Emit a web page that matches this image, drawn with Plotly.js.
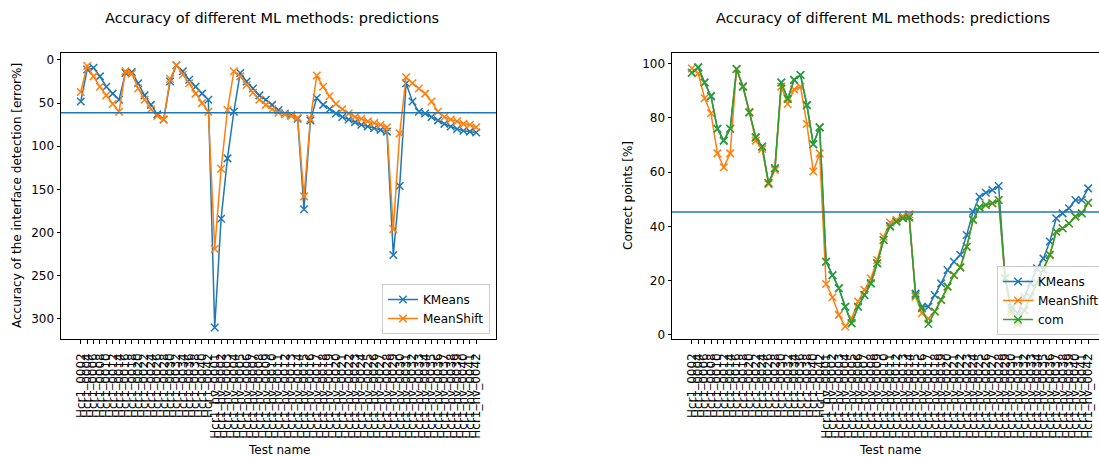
<!DOCTYPE html>
<html><head><meta charset="utf-8">
<script src="https://cdn.plot.ly/plotly-3.0.1.min.js"></script>
<style>
html,body{margin:0;padding:0;overflow:hidden;background:#fff}
#wrap{width:1099px;height:457px;overflow:hidden}
#plot{width:1120px;height:457px}
</style>
</head><body><div id="wrap"><div id="plot"></div></div>
<script>
const testNames = [
  'Hcr1_0002','Hcr1_0004','Hcr1_0006','Hcr1_0008','Hcr1_0010','Hcr1_0012','Hcr1_0014',
  'Hcr1_0016','Hcr1_0018','Hcr1_0020','Hcr1_0022','Hcr1_0024','Hcr1_0026','Hcr1_0028',
  'Hcr1_0030','Hcr1_0032','Hcr1_0034','Hcr1_0036','Hcr1_0038','Hcr1_0040','Hcr1_0042',
  'Hcr1_hv_0001','Hcr1_hv_0002','Hcr1_hv_0003','Hcr1_hv_0004','Hcr1_hv_0005','Hcr1_hv_0006','Hcr1_hv_0007',
  'Hcr1_hv_0008','Hcr1_hv_0009','Hcr1_hv_0010','Hcr1_hv_0011','Hcr1_hv_0012','Hcr1_hv_0013','Hcr1_hv_0014',
  'Hcr1_hv_0015','Hcr1_hv_0016','Hcr1_hv_0017','Hcr1_hv_0018','Hcr1_hv_0019','Hcr1_hv_0020','Hcr1_hv_0021',
  'Hcr1_hv_0022','Hcr1_hv_0023','Hcr1_hv_0024','Hcr1_hv_0025','Hcr1_hv_0026','Hcr1_hv_0027','Hcr1_hv_0028',
  'Hcr1_hv_0029','Hcr1_hv_0030','Hcr1_hv_0031','Hcr1_hv_0032','Hcr1_hv_0033','Hcr1_hv_0034','Hcr1_hv_0035',
  'Hcr1_hv_0036','Hcr1_hv_0037','Hcr1_hv_0038','Hcr1_hv_0039','Hcr1_hv_0040','Hcr1_hv_0041','Hcr1_hv_0042'
];

// Left panel: error of the interface detection [error%]
const kmeansError = [
  48,11,9,19,31,39,46, 15,14,27,41,52,63,69, 25,6,13,23,31,39,46,
  310,184,114,60,15,25,33, 41,46,52,58,62,64,68, 173,70,44,52,57,62,66,
  69,72,75,77,79,81,83, 226,146,27,48,60,62,66, 70,74,77,80,82,83,84
];
const meanShiftError = [
  37,7,19,31,41,51,60, 13,16,33,46,57,65,69, 22,6,17,27,39,50,60,
  219,126,58,13,19,29,38, 46,52,57,61,63,65,67, 158,68,18,31,42,51,57,
  62,66,68,71,73,75,78, 196,85,20,27,33,39,48, 60,66,69,71,74,75,78
];
const errorReference = 61;

// Right panel: correct points [%]
const kmeansCorrect = [
  96.6,98.6,93,88,76,71.6,76, 98,91.5,82,72.8,69.4,56,61.4, 93,87,94,95.8,84.7,70.3,76.5,
  27,22,17.2,10.4,4.3,10.4,14.7, 19,26.4,35,40.1,41.9,43,43.5, 15.3,10.4,10.4,14.7,19,23.9,27,
  29.5,36.8,45.4,50.9,52.4,53.4,54.9, 21,10,8,14,19,24.6,28.2, 34.4,43,44.8,46.7,49.7,49.7,54
];
const meanShiftCorrect = [
  98.2,96.4,87.2,81.7,66.9,61.8,66.9, 98,91.5,82.2,71.6,68.5,55.5,60.8, 91.5,85.1,90.5,91.5,77.7,60.2,66.9,
  18.8,13.9,7.4,3.1,6.1,12.3,16.6, 20.8,27.6,36.2,41.4,42.4,43.8,44.5, 14.1,8,6,8.6,12.9,17.8,22.1,
  24.9,32.5,42.4,47,47.9,48.5,49.7, 21,8,4,9,14,19,24, 29.5,38,39.3,41.1,43.6,44.8,48.7
];
const comCorrect = [
  96.6,98.6,93,88,76,71.6,76, 98,91.5,82,72.8,69.4,56,61.4, 93,87,94,95.8,84.7,70.3,76.5,
  27,22,17.2,10.4,4.3,10.4,14.7, 19,26.4,35,39.9,41.7,43,43.3, 14.7,9.8,4,8.6,12.9,17.8,22.1,
  24.9,32.5,42.4,47,47.9,48.5,49.7, 21,9,5,9,14,19,24, 29.5,38,39.3,41.1,43.6,44.8,48.7
];
const correctReference = 45.3;

const W = 1120, H = 457;
const C0 = '#1f77b4', C1 = '#ff7f0e', C2 = '#2ca02c';
const FONT = 'DejaVu Sans, Liberation Sans, sans-serif';
const px = v => v / W;
const py = v => 1 - v / H;

function series(x, y, name, color, xa, ya, leg) {
  return {
    x: x, y: y, name: name, type: 'scatter', mode: 'lines+markers',
    xaxis: xa, yaxis: ya, legend: leg,
    line: {color: color, width: 1.5},
    marker: {symbol: 'x-thin', size: 7.5, color: color, line: {color: color, width: 1.5}}
  };
}

const data = [
  series(testNames, kmeansError, 'KMeans', C0, 'x', 'y', 'legend'),
  series(testNames, meanShiftError, 'MeanShift', C1, 'x', 'y', 'legend'),
  series(testNames, kmeansCorrect, 'KMeans', C0, 'x2', 'y2', 'legend2'),
  series(testNames, meanShiftCorrect, 'MeanShift', C1, 'x2', 'y2', 'legend2'),
  series(testNames, comCorrect, 'com', C2, 'x2', 'y2', 'legend2')
];

const n = testNames.length;
const xr = [-0.05 * (n - 1), 1.05 * (n - 1)];
const yDom = [py(339), py(53)];

function xAxis(dom, anchor) {
  return {
    domain: dom, anchor: anchor, type: 'category', range: xr,
    tickmode: 'array', tickvals: testNames, ticktext: testNames, tickangle: -90,
    ticks: 'outside', ticklen: 3.5, tickwidth: 1, tickcolor: '#000', ticklabelstandoff: 5,
    showline: true, mirror: true, linecolor: '#000', linewidth: 1,
    showgrid: false, zeroline: false, automargin: false,
    tickfont: {family: FONT, size: 12, color: '#000'}
  };
}
function yAxis(range, tickvals, anchor) {
  return {
    domain: yDom, anchor: anchor, range: range, tickmode: 'array', tickvals: tickvals,
    ticks: 'outside', ticklen: 3.5, tickwidth: 1, tickcolor: '#000',
    showline: true, mirror: true, linecolor: '#000', linewidth: 1,
    showgrid: false, zeroline: false, automargin: false,
    tickfont: {family: FONT, size: 12, color: '#000'}
  };
}

const legendStyle = {
  bgcolor: 'rgba(255,255,255,0.8)', bordercolor: '#cccccc', borderwidth: 1,
  font: {family: FONT, size: 12, color: '#000'}, xref: 'paper', yref: 'paper',
  tracegroupgap: 0, itemwidth: 30
};

const layout = {
  width: W, height: H, margin: {l: 0, r: 0, t: 0, b: 0},
  paper_bgcolor: '#fff', plot_bgcolor: '#fff',
  showlegend: true,
  xaxis: xAxis([px(61), px(496)], 'y'),
  yaxis: yAxis([323.3, -8.1], [0, 50, 100, 150, 200, 250, 300], 'x'),
  xaxis2: xAxis([px(672), px(1108)], 'y2'),
  yaxis2: yAxis([-1.5, 103.9], [0, 20, 40, 60, 80, 100], 'x2'),
  legend: Object.assign({x: px(490), xanchor: 'right', y: py(334), yanchor: 'bottom'}, legendStyle),
  legend2: Object.assign({x: px(997), xanchor: 'left', y: py(335), yanchor: 'bottom'}, legendStyle),
  shapes: [
    {type: 'line', xref: 'x domain', x0: 0, x1: 1, yref: 'y', y0: errorReference, y1: errorReference,
     line: {color: C0, width: 1.5}},
    {type: 'line', xref: 'x2 domain', x0: 0, x1: 1, yref: 'y2', y0: correctReference, y1: correctReference,
     line: {color: C0, width: 1.5}}
  ],
  annotations: [
    {text: 'Accuracy of different ML methods: predictions', xref: 'paper', yref: 'paper',
     x: px(272), y: py(18), xanchor: 'center', yanchor: 'middle', showarrow: false,
     font: {family: FONT, size: 14.5, color: '#000'}},
    {text: 'Accuracy of different ML methods: predictions', xref: 'paper', yref: 'paper',
     x: px(883), y: py(18), xanchor: 'center', yanchor: 'middle', showarrow: false,
     font: {family: FONT, size: 14.5, color: '#000'}},
    {text: 'Accuracy of the interface detection [error%]', xref: 'paper', yref: 'paper',
     x: px(17), y: py(196), xanchor: 'center', yanchor: 'middle', textangle: -90, showarrow: false,
     font: {family: FONT, size: 12, color: '#000'}},
    {text: 'Correct points [%]', xref: 'paper', yref: 'paper',
     x: px(628), y: py(196), xanchor: 'center', yanchor: 'middle', textangle: -90, showarrow: false,
     font: {family: FONT, size: 12, color: '#000'}},
    {text: 'Test name', xref: 'paper', yref: 'paper',
     x: px(278.5), y: py(450), xanchor: 'center', yanchor: 'middle', showarrow: false,
     font: {family: FONT, size: 12, color: '#000'}},
    {text: 'Test name', xref: 'paper', yref: 'paper',
     x: px(890), y: py(450), xanchor: 'center', yanchor: 'middle', showarrow: false,
     font: {family: FONT, size: 12, color: '#000'}}
  ]
};

Plotly.newPlot('plot', data, layout, {displayModeBar: false, staticPlot: true});
</script>
</body></html>
